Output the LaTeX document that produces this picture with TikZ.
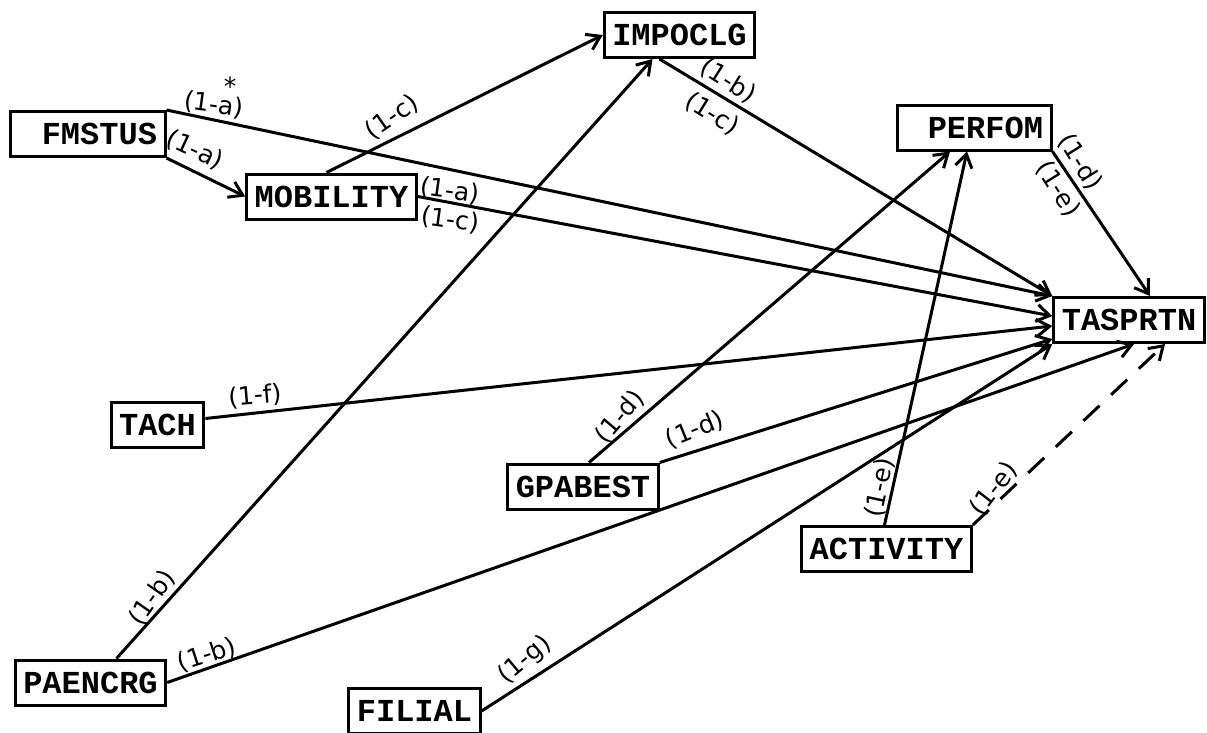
\documentclass[tikz,border=0pt]{standalone}
\usepackage{fontspec}
\usetikzlibrary{arrows.meta}
\newfontfamily\varfont{Liberation Mono}
\newfontfamily\handfont{DejaVu Sans}
\begin{document}
\begin{tikzpicture}[x=1pt, y=-1pt, >={Straight Barb[length=13pt,width=17pt]},
var/.style={draw, line width=3pt, inner xsep=8pt, inner ysep=0pt, minimum height=45pt, font=\varfont\bfseries\fontsize{32}{32}\selectfont},
coef/.style={font=\handfont\fontsize{25}{25}\selectfont, inner sep=0pt},
link/.style={->, line width=3pt}]
\useasboundingbox (0,0) rectangle (1207,732);
% variables
\node[var] (imp) at (679.5,35) {IMPOCLG};
\node[var, text width=139pt, align=right] (fm) at (87.5,134) {FMSTUS};
\node[var] (mob) at (331.5,196.5) {MOBILITY};
\node[var, text width=138pt, align=right] (perf) at (974,127.5) {PERFOM};
\node[var] (tas) at (1129,320) {TASPRTN};
\node[var] (tach) at (157.5,424.5) {TACH};
\node[var] (gpa) at (583,486.5) {GPABEST};
\node[var] (act) at (886.5,549) {ACTIVITY};
\node[var] (pae) at (90.5,682.5) {PAENCRG};
\node[var] (fil) at (414.5,711) {FILIAL};
% paths
\draw[link] (fm.south east) -- (mob.west);
\draw[link] (fm.north east) -- (tas.north west);
\draw[link] ([xshift=-5pt]mob.north) -- (imp.west);
\draw[link] (mob.east) -- ([yshift=4pt]tas.west);
\draw[link] ([xshift=-20pt]imp.south) -- (tas.north west);
\draw[link] (perf.south east) -- ([xshift=21pt]tas.north);
\draw[link] ([yshift=6pt]tach.east) -- ([yshift=-6pt]tas.west);
\draw[link] ([xshift=6pt]gpa.north) -- ([xshift=-24pt]perf.south);
\draw[link] (gpa.north east) -- ([yshift=5pt]tas.south west);
\draw[link] ([xshift=-2pt]act.north) -- ([xshift=-7pt]perf.south);
\draw[link, dash pattern=on 22pt off 16pt] (act.north east) -- ([xshift=36pt]tas.south);
\draw[link] ([xshift=26pt]pae.north) -- ([xshift=-27pt]imp.south);
\draw[link] (pae.east) -- ([xshift=5pt]tas.south);
\draw[link] (fil.east) -- (tas.south west);
% coefficients
\node[coef, rotate=-8] (c1) at (214,105) {(1-a)};
\node[coef] (c1s) at (230,86) {*};
\node[coef, rotate=-25] (c2) at (195,150) {(1-a)};
\node[coef, rotate=35] (c3) at (392,117) {(1-c)};
\node[coef, rotate=-8] (c4) at (450,191) {(1-a)};
\node[coef, rotate=-8] (c5) at (450,220) {(1-c)};
\node[coef, rotate=-32] (c6) at (728,81) {(1-b)};
\node[coef, rotate=-32] (c7) at (712,114) {(1-c)};
\node[coef, rotate=-58] (c8) at (1080,162) {(1-d)};
\node[coef, rotate=-58] (c9) at (1058,189) {(1-e)};
\node[coef, rotate=5] (c10) at (255,396) {(1-f)};
\node[coef, rotate=55] (c11) at (152,598) {(1-b)};
\node[coef, rotate=18] (c12) at (207,655) {(1-b)};
\node[coef, rotate=40] (c13) at (525,660) {(1-g)};
\node[coef, rotate=50] (c14) at (620,417) {(1-d)};
\node[coef, rotate=22] (c15) at (695,430) {(1-d)};
\node[coef, rotate=78] (c16) at (880,488) {(1-e)};
\node[coef, rotate=52] (c17) at (994,489) {(1-e)};
\end{tikzpicture}
\end{document}
